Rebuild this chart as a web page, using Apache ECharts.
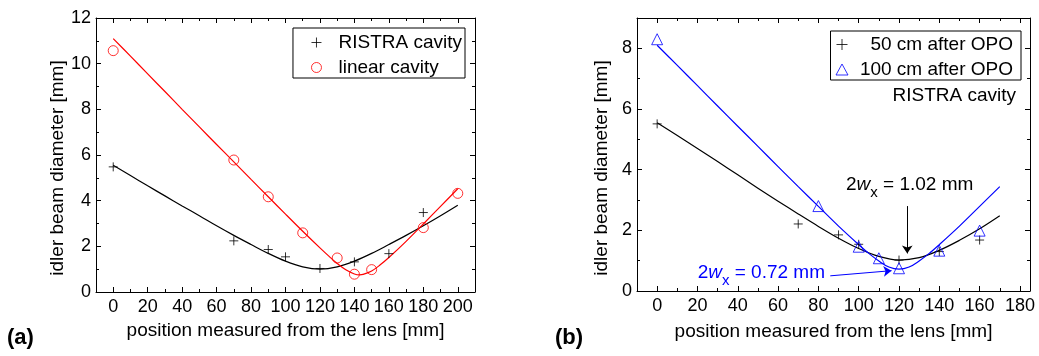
<!DOCTYPE html>
<html>
<head>
<meta charset="utf-8">
<title>Idler beam diameter</title>
<script src="https://cdn.jsdelivr.net/npm/echarts@6/dist/echarts.min.js"></script>
<style>
  html, body { margin: 0; padding: 0; background: #fff; }
  #chart { width: 1039px; height: 356px; }
</style>
</head>
<body>
<div id="chart"></div>
<script>
// ---- measured data ----
// Panel (a): RISTRA cavity vs linear cavity
const posRistraA = [0, 70, 90, 100, 120, 140, 160, 180];
const diamRistraA = [5.48, 2.24, 1.86, 1.54, 1.03, 1.32, 1.68, 3.48];
const posLinearA = [0, 70, 90, 110, 130, 140, 150, 180, 200];
const diamLinearA = [10.57, 5.78, 4.17, 2.59, 1.49, 0.78, 0.98, 2.82, 4.32];

// Panel (a): fitted beam-caustic curves
const fitPosRistraA = [0, 10, 20, 30, 40, 50, 60, 70, 80, 90, 100, 110, 120, 130, 140, 150, 160, 170, 180, 190, 200];
const fitRistraA = [5.55, 5.10, 4.65, 4.21, 3.77, 3.34, 2.90, 2.48, 2.08, 1.69, 1.35, 1.10, 1.00, 1.10, 1.35, 1.69, 2.08, 2.48, 2.90, 3.34, 3.80];
const fitPosLinearA = [0, 10, 20, 30, 40, 50, 60, 70, 80, 90, 100, 110, 120, 125, 130, 135, 140, 143, 145, 150, 155, 160, 170, 180, 190, 200];
const fitLinearA = [11.1, 10.33, 9.55, 8.78, 8.00, 7.23, 6.46, 5.70, 4.93, 4.17, 3.41, 2.66, 1.93, 1.58, 1.25, 0.97, 0.79, 0.75, 0.77, 0.92, 1.19, 1.51, 2.22, 2.98, 3.75, 4.52];

// Panel (b): RISTRA cavity at two distances after the OPO
const pos50B = [0, 70, 90, 100, 120, 140, 160];
const diam50B = [5.51, 2.21, 1.85, 1.54, 1.02, 1.30, 1.68];
const pos100B = [0, 80, 100, 110, 120, 140, 160];
const diam100B = [8.30, 2.80, 1.46, 1.08, 0.75, 1.33, 1.99];

// Panel (b): fitted curves
const fitPos50B = [0, 10, 20, 30, 40, 50, 60, 70, 80, 90, 100, 110, 120, 130, 140, 150, 160, 170];
const fit50B = [5.55, 5.13, 4.70, 4.27, 3.83, 3.39, 2.96, 2.54, 2.13, 1.74, 1.40, 1.14, 1.02, 1.10, 1.34, 1.67, 2.05, 2.48];
const fitPos100B = [0, 10, 20, 30, 40, 50, 60, 70, 80, 90, 100, 105, 110, 115, 120, 125, 130, 135, 140, 150, 160, 170];
const fit100B = [8.10, 7.44, 6.77, 6.10, 5.43, 4.77, 4.10, 3.44, 2.79, 2.14, 1.53, 1.24, 0.99, 0.79, 0.72, 0.79, 0.99, 1.24, 1.53, 2.14, 2.79, 3.44];

// ---- axes: tick values ----
const xTicksA = [0, 20, 40, 60, 80, 100, 120, 140, 160, 180, 200];
const yTicksA = [0, 2, 4, 6, 8, 10, 12];
const xTicksB = [0, 20, 40, 60, 80, 100, 120, 140, 160, 180];
const yTicksB = [0, 2, 4, 6, 8];

// ---- texts ----
const xTitle = 'position measured from the lens [mm]';
const yTitle = 'idler beam diameter [mm]';
const namesA = ['RISTRA cavity', 'linear cavity'];
const namesB = ['50 cm after OPO', '100 cm after OPO'];
const noteB = 'RISTRA cavity';
const waistLabels = [' = 1.02 mm', ' = 0.72 mm'];

// annotation anchors (data units of panel b)
const waistTextAt = [[93.7, 3.5], [20.1, 0.6]];
const waistArrows = [
  [[124.1, 2.80], [124.1, 1.24]],
  [[85.9, 0.50], [116.3, 0.67]]
];

const FONT = "'Liberation Sans', Arial, sans-serif";
const RED = '#ff0000';
const BLUE = '#0000ff';
const BLACK = '#000000';
const PLUS = 'path://M5,0L5,10M0,5L10,5';

const zip = (xs, ys) => xs.map((x, i) => [x, ys[i]]);

function axisSet(dim, gridIndex, min, max, majors, minorStep, sides) {
  const out = [];
  sides.forEach((pos, k) => {
    const labels = k === 0;
    out.push({
      type: 'value', gridIndex, position: pos, min, max,
      axisLine: { show: true, onZero: false, lineStyle: { color: BLACK, width: 1 } },
      axisTick: { show: true, inside: true, length: 5, customValues: majors, lineStyle: { color: BLACK, width: 1 } },
      axisLabel: labels ? {
        show: true, customValues: majors, margin: dim === 'x' ? 6 : 5,
        fontSize: 18, color: BLACK, fontFamily: FONT
      } : { show: false },
      splitLine: { show: false }
    });
    out.push({
      type: 'value', gridIndex, position: pos, min, max, interval: minorStep,
      axisLine: { show: false, onZero: false },
      axisTick: { show: true, inside: true, length: 3, lineStyle: { color: BLACK, width: 1 } },
      axisLabel: { show: false },
      splitLine: { show: false }
    });
  });
  return out;
}

const xAxes = [
  ...axisSet('x', 0, -10, 210, xTicksA, 10, ['bottom', 'top']),
  ...axisSet('x', 1, -10, 185, xTicksB, 10, ['bottom', 'top'])
];
const yAxes = [
  ...axisSet('y', 0, 0, 12, yTicksA, 1, ['left', 'right']),
  ...axisSet('y', 1, 0, 9, yTicksB, 1, ['left', 'right'])
];

function scatter(name, xi, data, symbol, size, color) {
  return {
    type: 'scatter', name, xAxisIndex: xi, yAxisIndex: xi, data,
    symbol, symbolSize: size, z: 4,
    itemStyle: { color: 'transparent', borderColor: color, borderWidth: 1 },
    emphasis: { disabled: true }
  };
}
function fitLine(xi, data, color, extra) {
  return Object.assign({
    type: 'line', xAxisIndex: xi, yAxisIndex: xi, data,
    showSymbol: false, smooth: 0.35, z: 3,
    lineStyle: { color, width: 1.2 },
    emphasis: { disabled: true }
  }, extra || {});
}
// a thin pointer with a filled head at its end
function arrow(from, to, color) {
  return {
    silent: true, animation: false,
    symbol: ['none', 'arrow'], symbolSize: 8,
    label: { show: false },
    itemStyle: { color },
    lineStyle: { color, width: 1, type: 'solid' },
    emphasis: { disabled: true },
    data: [[{ coord: from }, { coord: to }]]
  };
}

const series = [
  fitLine(0, zip(fitPosRistraA, fitRistraA), BLACK),
  fitLine(0, zip(fitPosLinearA, fitLinearA), RED),
  scatter(namesA[0], 0, zip(posRistraA, diamRistraA), PLUS, 9, BLACK),
  scatter(namesA[1], 0, zip(posLinearA, diamLinearA), 'circle', 10, RED),
  fitLine(4, zip(fitPos50B, fit50B), BLACK, { markLine: arrow(waistArrows[0][0], waistArrows[0][1], BLACK) }),
  fitLine(4, zip(fitPos100B, fit100B), BLUE, { markLine: arrow(waistArrows[1][0], waistArrows[1][1], BLUE) }),
  scatter(namesB[0], 4, zip(pos50B, diam50B), PLUS, 9, BLACK),
  scatter(namesB[1], 4, zip(pos100B, diam100B), 'triangle', 11, BLUE)
];

const legendIcon = (name, icon, color) => ({
  name, icon, itemStyle: { color: 'transparent', borderColor: color, borderWidth: 1 }
});

const option = {
  animation: false,
  backgroundColor: '#fff',
  grid: [
    { left: 96, top: 18, width: 379, height: 274, containLabel: false },
    { left: 637, top: 18, width: 393, height: 273, containLabel: false }
  ],
  xAxis: xAxes,
  yAxis: yAxes,
  legend: [
    {
      right: 574, top: 28, orient: 'vertical', selectedMode: false,
      itemWidth: 34, itemHeight: 10, itemGap: 6,
      padding: [5, 3, 1, 18], borderColor: BLACK, borderWidth: 1,
      textStyle: { fontSize: 19, color: BLACK, fontFamily: FONT },
      data: [legendIcon(namesA[0], PLUS, BLACK), legendIcon(namesA[1], 'circle', RED)]
    },
    {
      right: 18, top: 31, orient: 'vertical', selectedMode: false,
      itemWidth: 12, itemHeight: 11, itemGap: 6,
      padding: [4, 8, 1, 5], borderColor: BLACK, borderWidth: 1,
      formatter: n => '{r|' + n + '}',
      textStyle: {
        fontSize: 19, color: BLACK, fontFamily: FONT,
        rich: { r: { width: 160, align: 'right', fontSize: 19, fontFamily: FONT, color: BLACK } }
      },
      data: [legendIcon(namesB[0], PLUS, BLACK), legendIcon(namesB[1], 'triangle', BLUE)]
    }
  ],
  series
};

const chart = echarts.init(document.getElementById('chart'), null, { renderer: 'canvas' });
chart.setOption(option);

// ---- titles, panel letters and waist labels ----
const ctx = document.createElement('canvas').getContext('2d');
function textWidth(str, size, style) {
  ctx.font = (style || '') + ' ' + size + 'px ' + FONT;
  return ctx.measureText(str).width;
}
function waistLabel(anchor, rest, color) {
  const [px, py] = chart.convertToPixel({ gridIndex: 1 }, anchor);
  const parts = [];
  let x = px;
  const add = (t, size, style, dy) => {
    parts.push({
      type: 'text', x, y: py + dy, silent: true,
      style: { text: t, fill: color, fontSize: size, fontFamily: FONT, fontStyle: style || 'normal', align: 'left', verticalAlign: 'middle' }
    });
    x += textWidth(t, size, style);
  };
  add('2', 19, '', 0);
  add('w', 19, 'italic', 0);
  add('x', 15, '', 8);
  add(rest, 19, '', 0);
  return parts;
}

const rectA = chart.getModel().getComponent('grid', 0).coordinateSystem.getRect();
const rectB = chart.getModel().getComponent('grid', 1).coordinateSystem.getRect();
const plain = (text, x, y, extra) => Object.assign({
  type: 'text', x, y, silent: true,
  style: Object.assign({ text, fill: BLACK, fontSize: 19, fontFamily: FONT, align: 'center', verticalAlign: 'middle' }, extra || {})
});

const graphics = [
  plain(xTitle, rectA.x + rectA.width / 2, 331),
  plain(xTitle, rectB.x + rectB.width / 2, 332),
  Object.assign(plain(yTitle, 58, 168), { rotation: Math.PI / 2 }),
  Object.assign(plain(yTitle, 602, 168), { rotation: Math.PI / 2 }),
  plain('(a)', 7, 338, { align: 'left', fontSize: 22, fontWeight: 'bold' }),
  plain('(b)', 555, 338, { align: 'left', fontSize: 22, fontWeight: 'bold' }),
  plain(noteB, 1016, 96, { align: 'right' }),
  ...waistLabel(waistTextAt[0], waistLabels[0], BLACK),
  ...waistLabel(waistTextAt[1], waistLabels[1], BLUE)
];
chart.setOption({ graphic: graphics });
</script>
</body>
</html>
